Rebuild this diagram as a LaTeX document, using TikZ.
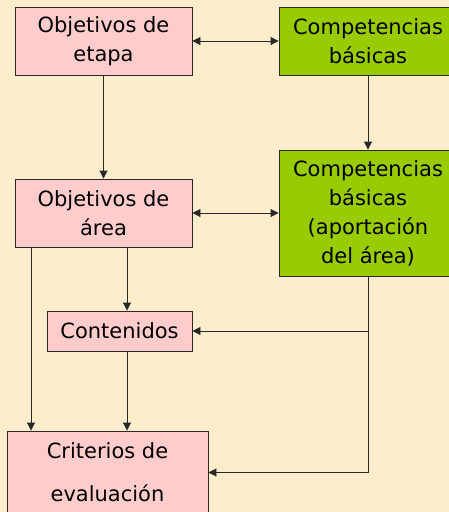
\documentclass[tikz,border=0pt]{standalone}
\usepackage{fontspec}
\setmainfont{DejaVu Sans}
\usetikzlibrary{arrows.meta}
\definecolor{parch}{RGB}{251,236,203}
\definecolor{pinkbox}{RGB}{255,204,204}
\definecolor{greenbox}{RGB}{153,204,0}
\definecolor{edge}{RGB}{40,40,40}
\begin{document}
\begin{tikzpicture}[x=1pt,y=-1pt,
  box/.style={draw=edge,line width=0.9pt,inner sep=0pt,align=center,
    font=\fontsize{21}{29}\selectfont},
  pinkb/.style={box,fill=pinkbox},
  greenb/.style={box,fill=greenbox},
  arr/.style={draw=edge,line width=0.9pt,-{Triangle[length=8pt,width=8pt]}},
  darr/.style={draw=edge,line width=0.9pt,{Triangle[length=8pt,width=8pt]}-{Triangle[length=8pt,width=8pt]}}]
\useasboundingbox (0,0) rectangle (449,512);
\clip (0,0) rectangle (449,512);
\fill[parch] (0,0) rectangle (449,512);
\node[pinkb,minimum width=177pt,minimum height=68pt] (A) at (103.5,41) {Objetivos de\\etapa};
\node[greenb,minimum width=178pt,minimum height=68pt] (B) at (368,41) {Competencias\\básicas};
\node[greenb,minimum width=178pt,minimum height=126pt] (C) at (368,213) {Competencias\\básicas\\(aportación\\del área)};
\node[pinkb,minimum width=177pt,minimum height=68pt] (D) at (103.5,213) {Objetivos de\\área};
\node[pinkb,minimum width=145pt,minimum height=40pt] (E) at (119.5,331) {Contenidos};
\node[pinkb,minimum width=201pt,minimum height=83pt,font=\fontsize{21}{43}\selectfont] (F) at (107.5,472.5) {Criterios de\\evaluación};
\draw[darr] (A.east) -- (B.west);
\draw[arr] (B.south) -- (C.north);
\draw[arr] (A.south) -- (D.north);
\draw[darr] (D.east) -- (C.west);
\draw[arr] ([xshift=23.5pt]D.south) -- ([xshift=23.5pt]D.south |- E.north);
\draw[arr] ([xshift=7.5pt]E.south) -- ([xshift=7.5pt]E.south |- F.north);
\draw[arr] ([xshift=-72.5pt]D.south) -- ([xshift=-72.5pt]D.south |- F.north);
\draw[arr] (C.south) |- (E.east);
\draw[arr] (C.south) |- (F.east);
\end{tikzpicture}
\end{document}
